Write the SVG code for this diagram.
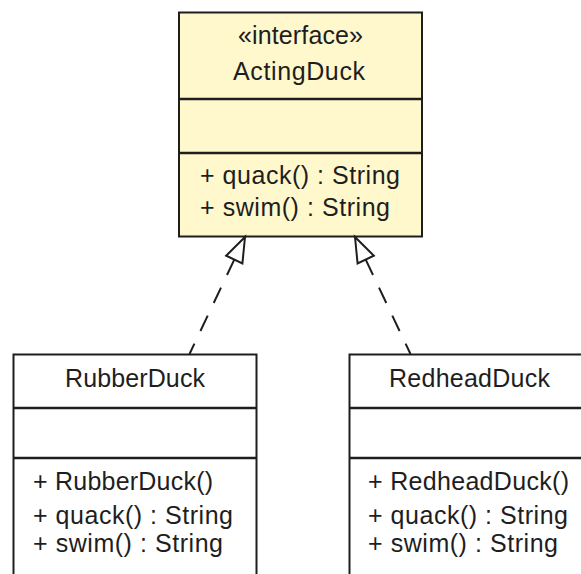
<svg xmlns="http://www.w3.org/2000/svg" width="581" height="574" viewBox="0 0 581 574">
<style>
.box{stroke:#1e1e1e;stroke-width:2}
.iface{fill:#fff8cc}
.cls{fill:#ffffff}
.div{stroke:#1e1e1e;stroke-width:2.5}
text{font-family:"Liberation Sans",Arial,sans-serif;font-size:25px;fill:#1e1e1e}
.c{text-anchor:middle}
.dep{fill:none;stroke:#1e1e1e;stroke-width:2;stroke-dasharray:17 14;stroke-dashoffset:6}
</style>
<defs>
<marker id="real" markerUnits="userSpaceOnUse" viewBox="0 -10 27 20" markerWidth="27" markerHeight="20" refX="25" refY="0" orient="auto-start-reverse" overflow="visible">
<polygon points="25,0 0,-9 0,9" fill="#ffffff" stroke="#1e1e1e" stroke-width="2" stroke-linejoin="miter"/>
</marker>
</defs>
<rect width="581" height="574" fill="#ffffff"/>
<g id="ActingDuck">
<rect class="box iface" x="179" y="12.5" width="243" height="224"/>
<line class="div" x1="179" y1="99" x2="422" y2="99"/>
<line class="div" x1="179" y1="153" x2="422" y2="153"/>
<text class="c" x="300.5" y="44" textLength="125" lengthAdjust="spacing">«interface»</text>
<text class="c" x="299" y="80" textLength="132" lengthAdjust="spacing">ActingDuck</text>
<text x="200" y="184" textLength="200" lengthAdjust="spacing">+ quack() : String</text>
<text x="200" y="216" textLength="190" lengthAdjust="spacing">+ swim() : String</text>
</g>
<g id="RubberDuck">
<rect class="box cls" x="13.5" y="354.5" width="243" height="260"/>
<line class="div" x1="13.5" y1="408" x2="256.5" y2="408"/>
<line class="div" x1="13.5" y1="458" x2="256.5" y2="458"/>
<text class="c" x="135" y="387" textLength="140" lengthAdjust="spacing">RubberDuck</text>
<text x="33" y="490" textLength="180" lengthAdjust="spacing">+ RubberDuck()</text>
<text x="33" y="524" textLength="200" lengthAdjust="spacing">+ quack() : String</text>
<text x="33" y="552" textLength="190" lengthAdjust="spacing">+ swim() : String</text>
</g>
<g id="RedheadDuck">
<rect class="box cls" x="349.5" y="354.5" width="243" height="260"/>
<line class="div" x1="349.5" y1="408" x2="592" y2="408"/>
<line class="div" x1="349.5" y1="458" x2="592" y2="458"/>
<text class="c" x="469.5" y="387" textLength="161" lengthAdjust="spacing">RedheadDuck</text>
<text x="368" y="490" textLength="201" lengthAdjust="spacing">+ RedheadDuck()</text>
<text x="368" y="524" textLength="200" lengthAdjust="spacing">+ quack() : String</text>
<text x="368" y="552" textLength="190" lengthAdjust="spacing">+ swim() : String</text>
</g>
<g id="connectors">
<path class="dep" d="M245,237 L189.5,354" marker-start="url(#real)"/>
<path class="dep" d="M355,237 L410.5,354" marker-start="url(#real)"/>
</g>
</svg>
